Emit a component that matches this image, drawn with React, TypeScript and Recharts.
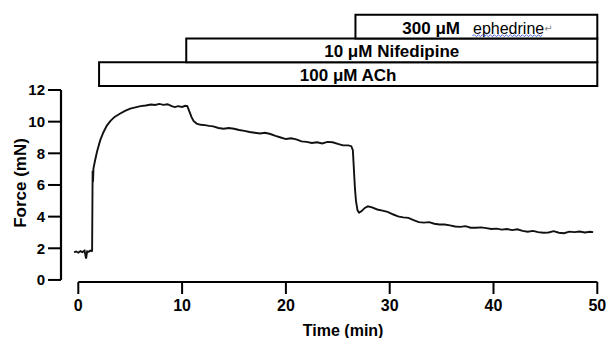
import React from 'react';
import { LineChart, Line, XAxis, YAxis, ReferenceLine, ReferenceArea } from 'recharts';

// ---- data ----
const timeMin = [
  -0.4, -0.2, 0, 0.2, 0.4, 0.6, 0.75, 0.85, 1.0, 1.15, 1.3, 1.33, 1.38, 1.42, 1.46,
  1.6, 1.8, 2.1, 2.4, 2.75, 3.1, 3.5, 4.0, 4.5, 5.0, 5.5, 6.0, 6.5, 7.0, 7.4, 7.8, 8.2, 8.6,
  9.0, 9.3, 9.6, 10.0, 10.3, 10.5, 10.7, 10.9, 11.1, 11.4, 11.8, 12.2, 12.6, 13.0, 13.5,
  14.0, 14.5, 15.0, 15.5, 16.0, 16.5, 17.0, 17.5, 18.0, 18.5, 19.0, 19.5, 20.0, 20.5, 21.0,
  21.5, 22.0, 22.5, 23.0, 23.5, 24.0, 24.5, 25.0, 25.5, 26.0, 26.3, 26.45, 26.55, 26.65,
  26.75, 26.9, 27.05, 27.3, 27.6, 27.9, 28.3, 28.8, 29.3, 29.8, 30.3, 30.8, 31.3, 31.8,
  32.3, 32.8, 33.3, 33.8, 34.3, 34.8, 35.3, 35.8, 36.3, 36.8, 37.3, 37.8, 38.3, 38.8,
  39.3, 39.8, 40.3, 40.8, 41.3, 41.8, 42.3, 42.8, 43.3, 43.8, 44.3, 44.8, 45.3, 45.8,
  46.3, 46.8, 47.3, 47.8, 48.3, 48.8, 49.3, 49.6,
];
const forceMN = [
  1.75, 1.8, 1.72, 1.82, 1.76, 1.85, 1.35, 1.8, 1.78, 1.85, 1.82, 1.85, 6.9, 6.2, 7.05,
  7.5, 8.1, 8.8, 9.3, 9.75, 10.05, 10.3, 10.5, 10.68, 10.82, 10.9, 10.98, 11.02, 11.08, 11.05, 11.12, 11.06, 11.1,
  10.98, 10.92, 10.98, 10.93, 11.0, 10.98, 10.65, 10.3, 10.05, 9.88, 9.8, 9.78, 9.73, 9.7, 9.6,
  9.55, 9.6, 9.55, 9.47, 9.42, 9.35, 9.3, 9.25, 9.3, 9.22, 9.1, 9.0, 8.9, 8.95, 8.88,
  8.75, 8.72, 8.65, 8.7, 8.62, 8.72, 8.7, 8.6, 8.5, 8.5, 8.45, 8.2, 7.0, 5.8,
  5.0, 4.4, 4.25, 4.35, 4.55, 4.65, 4.58, 4.45, 4.38, 4.3, 4.15, 4.02, 3.95, 3.92,
  3.78, 3.65, 3.62, 3.65, 3.55, 3.5, 3.5, 3.45, 3.38, 3.35, 3.4, 3.3, 3.3, 3.32,
  3.27, 3.22, 3.24, 3.18, 3.22, 3.15, 3.2, 3.1, 3.05, 3.1, 3.02, 2.98, 3.0, 3.08,
  2.98, 2.95, 3.05, 3.02, 3.06, 3.0, 3.04, 3.02,
];
const xTicks = [0, 10, 20, 30, 40, 50];
const yTicks = [0, 2, 4, 6, 8, 10, 12];
const treatmentDose = ['100 μM', '10 μM', '300 μM'];
const treatmentDrug = ['ACh', 'Nifedipine', 'ephedrine'];
const treatmentStart = [2.0, 10.4, 26.7];
const treatmentEnd = [50, 50, 50];

const data = timeMin.map((t, i) => ({ t, f: forceMN[i] }));

const FONT = '"Liberation Sans", Arial, Helvetica, sans-serif';
const X_MIN = -1.667;
const Y_MIN = -0.13;
const BAR_BASE = 12.25;
const BAR_H = 1.5;

const wavyPath = (x0: number, x1: number, y: number) => {
  let d = `M${x0},${y}`;
  let up = true;
  for (let x = x0 + 2; x <= x1; x += 2) {
    d += ` L${x},${y + (up ? -1 : 1)}`;
    up = !up;
  }
  return d;
};

const TreatmentLabel = (idx: number) => (props: any) => {
  const vb = props.viewBox || {};
  const cx = vb.x + vb.width / 2;
  const cy = vb.y + vb.height / 2 + 1;
  if (idx === 2) {
    const startX = cx - 74;
    const drugStart = startX + 70;
    const drugEnd = drugStart + 71;
    return (
      <g>
        <text x={startX} y={cy} textAnchor="start" dominantBaseline="central" fontFamily={FONT} fill="#000">
          <tspan fontWeight="bold" fontSize={17}>{treatmentDose[idx]}</tspan>
          <tspan dx={13} fontSize={16}>{treatmentDrug[idx]}</tspan>
          <tspan fontSize={10} fill="#888" fontFamily="DejaVu Sans">↵</tspan>
        </text>
        <path d={wavyPath(drugStart, drugEnd, cy + 8)} stroke="#3b5bdb" strokeWidth={0.9} fill="none" />
      </g>
    );
  }
  return (
    <text x={cx} y={cy} textAnchor="middle" dominantBaseline="central" fontFamily={FONT} fontWeight="bold" fontSize={17} fill="#000">
      {treatmentDose[idx] + ' ' + treatmentDrug[idx]}
    </text>
  );
};

const XLabel = (props: any) => {
  const vb = props.viewBox || { x: 61, width: 536, y: 282 };
  const cx = vb.x + vb.width / 2 + 14;
  return (
    <text x={cx} y={330} textAnchor="middle" dominantBaseline="central" fontFamily={FONT} fontWeight="bold" fontSize={16} fill="#000">
      Time (min)
    </text>
  );
};

const YLabel = () => {
  const cx = 20;
  const cy = 183;
  return (
    <text x={cx} y={cy} transform={`rotate(-90 ${cx} ${cy})`} textAnchor="middle" dominantBaseline="central" fontFamily={FONT} fontWeight="bold" fontSize={17} fill="#000">
      Force (mN)
    </text>
  );
};

export default function App() {
  return (
    <div style={{ position: 'absolute', left: 0, top: 0, background: '#fff' }}>
      <LineChart
        width={609}
        height={338}
        data={data}
        margin={{ top: 8, right: 11.7, bottom: 0, left: 0 }}
      >
        <XAxis
          dataKey="t"
          type="number"
          domain={[X_MIN, 50]}
          ticks={xTicks}
          interval={0}
          allowDataOverflow
          axisLine={false}
          tickLine={{ stroke: '#000', strokeWidth: 2 }}
          tickSize={12}
          tickMargin={6}
          tick={{ fill: '#000', fontSize: 16, fontWeight: 'bold', fontFamily: FONT }}
          height={56}
          label={{ content: XLabel }}
        />
        <YAxis
          type="number"
          domain={[Y_MIN, 17.18]}
          ticks={yTicks}
          interval={0}
          allowDataOverflow
          axisLine={false}
          tickLine={{ stroke: '#000', strokeWidth: 2 }}
          tickSize={13}
          tickMargin={3}
          tick={{ fill: '#000', fontSize: 15, fontWeight: 'bold', fontFamily: FONT }}
          width={61}
          label={{ content: YLabel }}
        />
        <ReferenceLine
          segment={[{ x: X_MIN, y: 0 }, { x: X_MIN, y: 12 }]}
          stroke="#000"
          strokeWidth={2.2}
          ifOverflow="visible"
        />
        <ReferenceLine
          segment={[{ x: 0, y: Y_MIN }, { x: 50, y: Y_MIN }]}
          stroke="#000"
          strokeWidth={2.2}
          ifOverflow="visible"
        />
        {treatmentDose.map((_, i) => (
          <ReferenceArea
            key={i}
            x1={treatmentStart[i]}
            x2={treatmentEnd[i]}
            y1={BAR_BASE + i * BAR_H}
            y2={BAR_BASE + (i + 1) * BAR_H}
            fill="#fff"
            fillOpacity={1}
            stroke="#000"
            strokeWidth={2}
            ifOverflow="visible"
            label={{ content: TreatmentLabel(i) }}
          />
        ))}
        <Line
          type="linear"
          dataKey="f"
          stroke="#111"
          strokeWidth={1.9}
          dot={false}
          isAnimationActive={false}
        />
      </LineChart>
    </div>
  );
}
